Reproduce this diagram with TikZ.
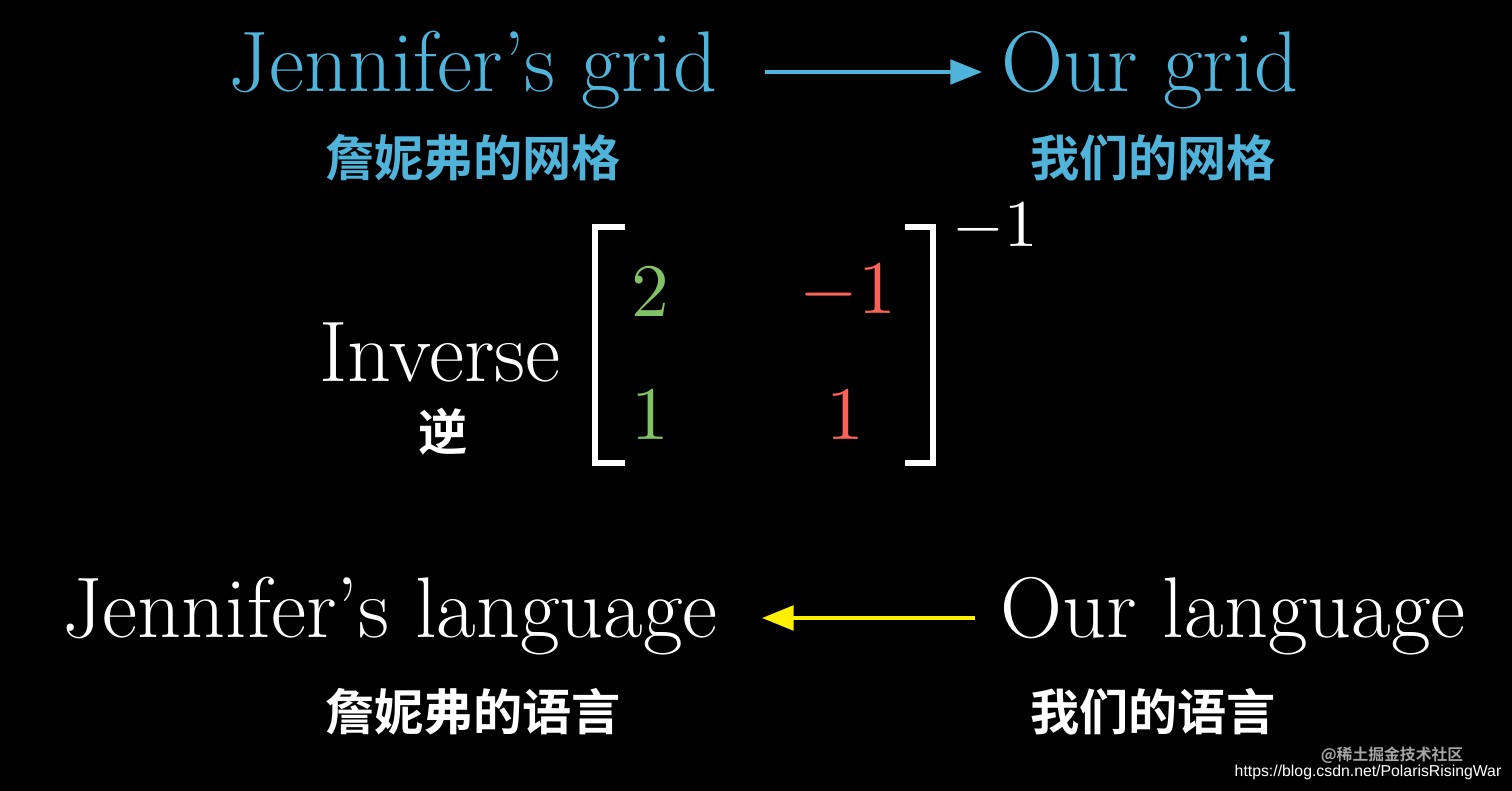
\documentclass[tikz,border=0pt]{standalone}
\usepackage{fontspec}
\newfontfamily\cjk{Noto Sans CJK SC Bold}
\newfontfamily\wm{Liberation Sans}
\usetikzlibrary{arrows.meta}
\definecolor{cy}{HTML}{4FB3DA}
\definecolor{gr}{HTML}{83C167}
\definecolor{rd}{HTML}{FC6255}
\definecolor{yl}{HTML}{FFF000}
\tikzset{
 big/.style={font=\fontsize{49}{58}\selectfont},
 ent/.style={scale=4.3},
 zh/.style={font=\cjk\fontsize{28}{33}\selectfont},
 brk/.style={draw=white,line width=3pt},
}
\begin{document}
\begin{tikzpicture}[x=0.02cm,y=-0.02cm]
\fill[black] (0,0) rectangle (1512,791);
\useasboundingbox (0,0) rectangle (1512,791);
\node[big,text=cy] (jg) at (473,70) {Jennifer’s grid};
\node[big,text=cy] (og) at (1150,70) {Our grid};
\draw[cy,line width=2pt,-{Triangle[length=18pt,width=14pt]}] (765,72) -- (982,72);
\node[zh,text=cy] (jgz) at (473,158) {詹妮弗的网格};
\node[zh,text=cy] (ogz) at (1153,158) {我们的网格};
\node[big,text=white] (inv) at (440,352) {Inverse};
\node[zh,text=white] (ni) at (443,432) {逆};
\draw[brk] (625,227) -- (595,227) -- (595,463) -- (625,463);
\draw[brk] (905,227) -- (933,227) -- (933,463) -- (905,463);
\node[ent,text=gr] (a) at (650,292) {$2$};
\node[ent,text=rd] (b) at (848,292) {$-1$};
\node[ent,text=gr] (c) at (650,415) {$1$};
\node[ent,text=rd] (d) at (845,415) {$1$};
\node[scale=3.8,text=white] (e) at (995,228) {$-1$};
\node[big,text=white] (jl) at (390,616) {Jennifer’s language};
\node[big,text=white] (ol) at (1233,616) {Our language};
\draw[yl,line width=2pt,-{Triangle[length=18pt,width=14pt]}] (975,618) -- (762,618);
\node[zh,text=white] (jlz) at (473,712) {詹妮弗的语言};
\node[zh,text=white] (olz) at (1153,712) {我们的语言};
\node[text=gray!70,font=\cjk\fontsize{9}{10}\selectfont] (w1) at (1392,755) {@稀土掘金技术社区};
\node[text=white,font=\wm\fontsize{9}{10}\selectfont] (w2) at (1368,772) {https://blog.csdn.net/PolarisRisingWar};
\end{tikzpicture}
\end{document}
